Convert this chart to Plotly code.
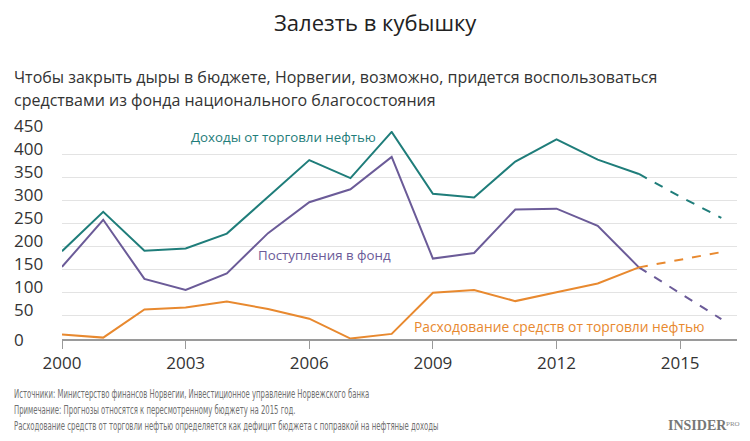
import plotly.graph_objects as go

years = [2000, 2001, 2002, 2003, 2004, 2005, 2006, 2007, 2008, 2009, 2010, 2011, 2012, 2013, 2014]
oil_revenue = [190, 275, 191, 196, 228, 307, 387, 348, 448, 314, 306, 384, 432, 388, 357]
fund_transfers = [156, 258, 130, 106, 142, 229, 296, 324, 394, 174, 186, 280, 282, 245, 155]
oil_spending = [10, 3, 64, 68, 81, 65, 44, 1, 11, 100, 106, 82, 101, 120, 155]

fc_years = [2014, 2015, 2016]
fc_oil_revenue = [357, 308, 262]
fc_fund_transfers = [155, 99, 43]
fc_oil_spending = [155, 171, 188]

y_ticks = [0, 50, 100, 150, 200, 250, 300, 350, 400, 450]
x_ticks = [2000, 2003, 2006, 2009, 2012, 2015]

title = "Залезть в кубышку"
subtitle = ["Чтобы закрыть дыры в бюджете, Норвегии, возможно, придется воспользоваться",
            "средствами из фонда национального благосостояния"]
footer = [
    "Источники: Министерство финансов Норвегии, Инвестиционное управление Норвежского банка",
    "Примечание: Прогнозы относятся к пересмотренному бюджету на 2015 год.",
    "Расходование средств от торговли нефтью определяется как дефицит бюджета с поправкой на нефтяные доходы",
]

TEAL = "#1f7d7a"
PURPLE = "#6b5b98"
ORANGE = "#e8892f"
FONT = "Open Sans"
FOOT_FONT = "Liberation Sans Narrow, DejaVu Sans Condensed, Roboto"

W, H = 750, 441
L, R, T, B = 62, 13, 131, 102
PW, PH = W - L - R, H - T - B


def px(x):
    return (x - L) / PW


def py(y):
    return (H - B - y) / PH


fig = go.Figure()
for ys, fys, c in [(oil_revenue, fc_oil_revenue, TEAL),
                   (fund_transfers, fc_fund_transfers, PURPLE),
                   (oil_spending, fc_oil_spending, ORANGE)]:
    fig.add_trace(go.Scatter(x=years, y=ys, mode="lines", line=dict(color=c, width=2),
                             hoverinfo="skip", showlegend=False, cliponaxis=False))
    fig.add_trace(go.Scatter(x=fc_years, y=fys, mode="lines",
                             line=dict(color=c, width=2, dash="dash"),
                             hoverinfo="skip", showlegend=False, cliponaxis=False))

for t in y_ticks:
    fig.add_annotation(x=px(12), xref="paper", y=t, yref="y", text=str(t),
                       showarrow=False, xanchor="left", yanchor="middle",
                       yshift=0 if t == 0 else 6,
                       font=dict(family=FONT, size=17, color="#333333"))

fig.add_annotation(x=2003.07, y=437, text="Доходы от торговли нефтью", showarrow=False,
                   xanchor="left", font=dict(family=FONT, size=13.3, color=TEAL))
fig.add_annotation(x=2004.7, y=182, text="Поступления в фонд", showarrow=False,
                   xanchor="left", font=dict(family=FONT, size=13.3, color=PURPLE))
fig.add_annotation(x=2008.5, y=27, text="Расходование средств от торговли нефтью", showarrow=False,
                   xanchor="left", font=dict(family=FONT, size=13.8, color=ORANGE))

fig.add_annotation(x=px(375), xref="paper", y=py(22), yref="paper", text=title,
                   showarrow=False, xanchor="center", yanchor="middle",
                   font=dict(family=FONT, size=22, color="#222222"))
for txt, y in zip(subtitle, [77, 100]):
    fig.add_annotation(x=px(12), xref="paper", y=py(y), yref="paper", text=txt,
                       showarrow=False, xanchor="left", yanchor="middle",
                       font=dict(family=FONT, size=16, color="#333333"))

for txt, y in zip(footer, [393, 409, 425]):
    fig.add_annotation(x=px(12), xref="paper", y=py(y), yref="paper",
                       text=txt, showarrow=False, xanchor="left", yanchor="middle",
                       font=dict(family=FOOT_FONT, size=13, color="#707070"))

# logo
fig.add_annotation(x=px(728), xref="paper", y=py(425), yref="paper", text="INSIDER",
                   showarrow=False, xanchor="right", yanchor="middle", borderpad=0,
                   font=dict(family="Liberation Serif", size=14, color="#777777", weight="bold"))
fig.add_annotation(x=px(725), xref="paper", y=py(424), yref="paper", text="PRO",
                   showarrow=False, xanchor="left", yanchor="middle", borderpad=0,
                   font=dict(family="Liberation Serif", size=7, color="#888888"))

fig.update_layout(
    width=W, height=H,
    margin=dict(l=L, r=R, t=T, b=B),
    paper_bgcolor="white", plot_bgcolor="white",
    showlegend=False,
    xaxis=dict(range=[2000, 2016.38], tickvals=x_ticks, ticktext=[str(v) for v in x_ticks],
               showgrid=False, zeroline=False, showline=True, linecolor="#9a9a9a", linewidth=2,
               ticks="outside", ticklen=8, tickcolor="#9a9a9a", tickwidth=1,
               tickfont=dict(family=FONT, size=17, color="#333333")),
    yaxis=dict(range=[0, 450], tickvals=y_ticks, showticklabels=False,
               showgrid=True, gridcolor="#e3e3e3", gridwidth=1, zeroline=False),
)

# condense the footer lines horizontally (the source uses a condensed face),
# keeping their left edge in place
post = """
document.body.style.margin='0';
function condense(){
  var foot = %s;
  var f = 0.59;
  document.querySelectorAll('text.annotation-text').forEach(function(el){
    if (foot.indexOf(el.textContent) >= 0 && !el.getAttribute('textLength')) {
      var w = el.getComputedTextLength();
      var x = parseFloat(el.getAttribute('x')) || 0;
      el.setAttribute('x', (x - w / 2).toFixed(1));
      el.style.textAnchor = 'start';
      el.setAttribute('text-anchor', 'start');
      el.setAttribute('lengthAdjust', 'spacingAndGlyphs');
      el.setAttribute('textLength', (w * f).toFixed(1));
      var rect = el.parentNode.querySelector('rect.bg');
      if (rect) { rect.setAttribute('width', (w * f + 2).toFixed(1)); }
    }
  });
}
condense();
setTimeout(condense, 30);
""" % (str(footer).replace("'", '"'))

fig.write_html("out.html", post_script=post, config={"displayModeBar": False})
